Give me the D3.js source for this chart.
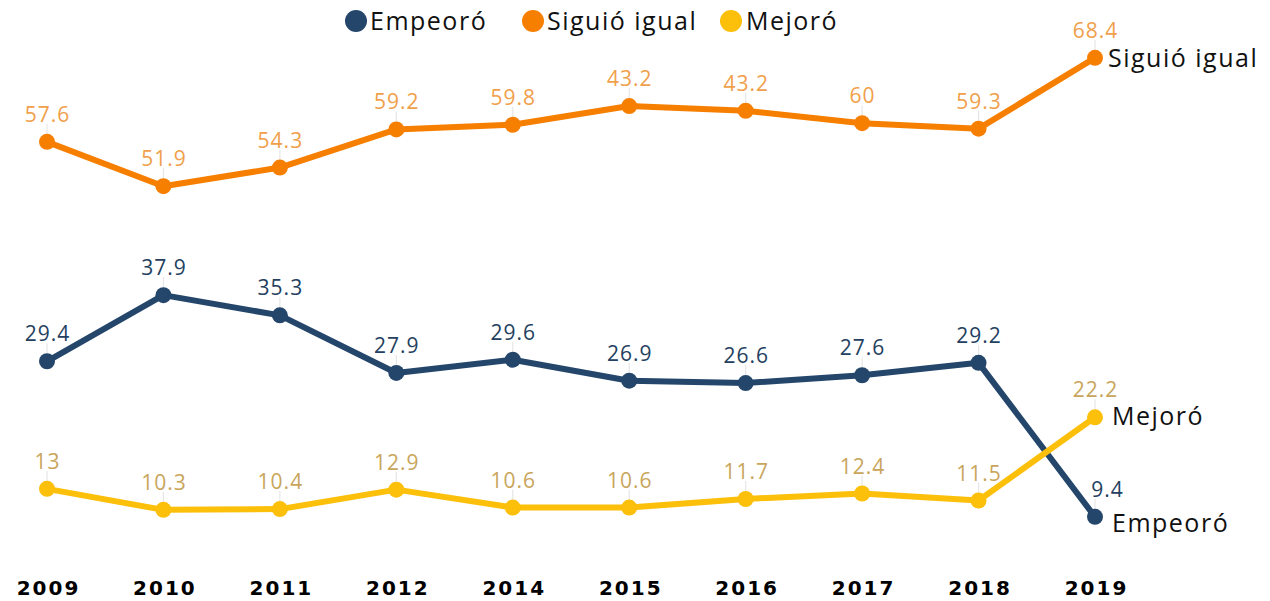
<!DOCTYPE html>
<html><head><meta charset="utf-8">
<script src="https://cdn.jsdelivr.net/npm/d3@7"></script>
<style>html,body{margin:0;padding:0;background:#fff;}</style>
</head><body>
<svg id="chart" width="1270" height="601"></svg>
<script>
const years = ["2009","2010","2011","2012","2014","2015","2016","2017","2018","2019"];
const seriesNames = ["Empeoró","Siguió igual","Mejoró"];
const empeoro = [29.4,37.9,35.3,27.9,29.6,26.9,26.6,27.6,29.2,9.4];
const siguio = [57.6,51.9,54.3,59.2,59.8,62.2,61.6,60,59.3,68.4];
const mejoro = [13,10.3,10.4,12.9,10.6,10.6,11.7,12.4,11.5,22.2];
// label texts as printed in the source (2015/2016 "Siguió igual" read 43.2)
const empeoroLabels = ["29.4","37.9","35.3","27.9","29.6","26.9","26.6","27.6","29.2","9.4"];
const siguioLabels = ["57.6","51.9","54.3","59.2","59.8","43.2","43.2","60","59.3","68.4"];
const mejoroLabels = ["13","10.3","10.4","12.9","10.6","10.6","11.7","12.4","11.5","22.2"];

const lineColors = {"Empeoró":"#24466b","Siguió igual":"#f77f00","Mejoró":"#fcbf0a"};
const labelColors = {"Empeoró":"#243f60","Siguió igual":"#f0a04b","Mejoró":"#c9a55c"};
const FONT = "'Open Sans', sans-serif";

const svg = d3.select("#chart");
const x = d3.scalePoint().domain(years).range([47,1095]);
const y = d3.scaleLinear().domain([0,70]).range([590,45.4]);

const series = [
  {name:"Siguió igual", values:siguio, labels:siguioLabels, endDy:9, endDx:13, lastDx:0},
  {name:"Empeoró", values:empeoro, labels:empeoroLabels, endDy:15, endDx:17, lastDx:12},
  {name:"Mejoró", values:mejoro, labels:mejoroLabels, endDy:8, endDx:17, lastDx:0}
];

// x axis labels
const xAxis = d3.axisBottom(x).tickSize(0).tickPadding(0);
const gx = svg.append("g").attr("transform","translate(0,574)").call(xAxis);
gx.select(".domain").remove();
gx.selectAll("text").attr("font-family","'DejaVu Sans', sans-serif").attr("font-weight","bold")
  .attr("font-size","20px").attr("fill","#000").attr("dy","0")
  .attr("letter-spacing","2px").attr("dx","1");
gx.selectAll("text").attr("y",21);

const line = d3.line().x((d,i)=>x(years[i])).y(d=>y(d));

// leader lines
series.forEach(s=>{
  const g = svg.append("g");
  g.selectAll("line.lead").data(s.values).join("line")
    .attr("x1",(d,i)=>x(years[i])).attr("x2",(d,i)=>x(years[i]))
    .attr("y1",d=>y(d)-18).attr("y2",d=>y(d))
    .attr("stroke","#e6e6e6").attr("stroke-width",1.2);
});

series.forEach(s=>{
  const g = svg.append("g");
  const last = s.values.length-1;
  g.append("path").datum(s.values).attr("d",line)
    .attr("fill","none").attr("stroke",lineColors[s.name]).attr("stroke-width",6)
    .attr("stroke-linejoin","round");
  g.selectAll("circle").data(s.values).join("circle")
    .attr("cx",(d,i)=>x(years[i])).attr("cy",d=>y(d)).attr("r",8)
    .attr("fill",lineColors[s.name]);
  g.selectAll("text.val").data(s.values).join("text").attr("class","val")
    .attr("x",(d,i)=>x(years[i]) + (i===last ? s.lastDx : 0) + 0.5).attr("y",d=>y(d)-20)
    .attr("text-anchor","middle").attr("font-family",FONT).attr("font-size","21px")
    .attr("letter-spacing","1px")
    .attr("fill",labelColors[s.name]).text((d,i)=>s.labels[i]);
  g.append("text").attr("x",x(years[last])+s.endDx).attr("y",y(s.values[last])+s.endDy)
    .attr("font-family",FONT).attr("font-size","25px").attr("letter-spacing","1.5px")
    .attr("fill","#111").text(s.name);
});

// legend
const legendItems = [
  {name:"Empeoró", cx:356, tx:370},
  {name:"Siguió igual", cx:533, tx:547},
  {name:"Mejoró", cx:731, tx:746}
];
const lg = svg.append("g");
legendItems.forEach(l=>{
  lg.append("circle").attr("cx",l.cx).attr("cy",21).attr("r",11).attr("fill",lineColors[l.name]);
  lg.append("text").attr("x",l.tx).attr("y",30).attr("font-family",FONT)
    .attr("font-size","25px").attr("letter-spacing","1.5px").attr("fill","#111").text(l.name);
});
</script>
</body></html>
